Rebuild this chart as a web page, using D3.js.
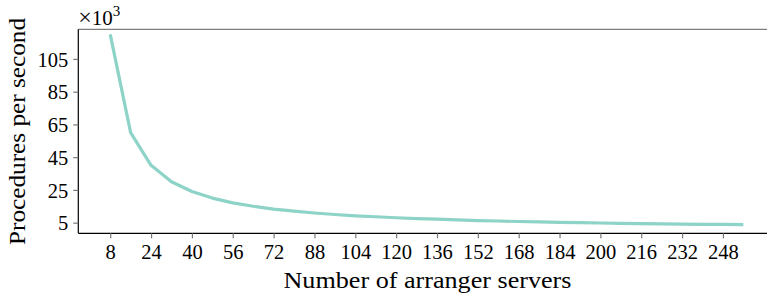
<!DOCTYPE html>
<html>
<head>
<meta charset="utf-8">
<script src="https://cdn.jsdelivr.net/npm/d3@7"></script>
<style>
  body { margin: 0; background: #fff; }
  svg { display: block; font-family: "Liberation Serif", serif; }
  .axis-legend { font-size: 23px; fill: #000; }
</style>
</head>
<body>
<div id="chart"></div>
<script>
// x: number of arranger servers, y: procedures per second (x10^3)
let servers = [8, 16, 24, 32, 40, 48, 56, 64, 72, 80, 88, 96, 104, 112, 120, 128,
  136, 144, 152, 160, 168, 176, 184, 192, 200, 208, 216, 224, 232, 240, 248, 256];
let procsPerSec = [120, 60, 40, 30, 24, 20, 17.1, 15, 13.3, 12, 10.9, 10, 9.2, 8.6, 8, 7.5,
  7.1, 6.7, 6.3, 6, 5.7, 5.5, 5.2, 5, 4.8, 4.6, 4.4, 4.3, 4.1, 4, 3.9, 3.75];
let xTicks = [8, 24, 40, 56, 72, 88, 104, 120, 136, 152, 168, 184, 200, 216, 232, 248];
let yTicks = [5, 25, 45, 65, 85, 105];

let width = 767;
let height = 299;
let margin = { top: 29.3, right: -8, bottom: 65.7, left: 78.3 };
let serif = '"Liberation Serif", serif';

let data = servers.map((s, i) => ({ size: s, value: procsPerSec[i] }));

let xScale = d3.scaleLinear()
  .domain([-4.5, 268.4])
  .range([margin.left, width - margin.right]);

let yScale = d3.scaleLinear()
  .domain([-1.5, 123.1])
  .range([height - margin.bottom, margin.top]);

let svg = d3.select("#chart")
  .append("svg")
  .attr("width", width)
  .attr("height", height);

/* top spine (right side is cut off in the original) */
svg.append("line")
  .attr("x1", margin.left).attr("x2", width)
  .attr("y1", margin.top).attr("y2", margin.top)
  .attr("stroke", "#7f7f7f").attr("stroke-width", 1.2);

let line = d3.line()
  .x(d => xScale(d.size))
  .y(d => yScale(d.value));

svg.append("path")
  .datum(data)
  .attr("d", line)
  .attr("fill", "none")
  .attr("stroke", "#8dd3c7")
  .attr("stroke-width", 3.2)
  .attr("stroke-linejoin", "round");

let xAxis = d3.axisBottom(xScale).tickValues(xTicks).tickSize(5).tickPadding(6).tickSizeOuter(0);
let yAxis = d3.axisLeft(yScale).tickValues(yTicks).tickSize(5).tickPadding(5).tickSizeOuter(0);

let gx = svg.append("g")
  .attr("transform", `translate(0, ${height - margin.bottom})`)
  .call(xAxis);
gx.select(".domain").attr("d", `M${margin.left},0H${width}`).attr("stroke", "#000").attr("stroke-width", 1.2);
gx.selectAll(".tick line").attr("stroke", "#777").attr("stroke-width", 1.2);

let gy = svg.append("g")
  .attr("transform", `translate(${margin.left}, 0)`)
  .call(yAxis);
gy.select(".domain").attr("d", `M0,${height - margin.bottom}V${margin.top}`).attr("stroke", "#000").attr("stroke-width", 1.2);
gy.selectAll(".tick line").attr("stroke", "#777").attr("stroke-width", 1.2);
gy.selectAll(".tick text").attr("dy", "0.35em");

svg.selectAll(".tick text")
  .style("font-family", serif)
  .style("font-size", "20.5px")
  .style("fill", "#000");

svg.append("text")
  .attr("class", "axis-legend")
  .attr("x", 427.5)
  .attr("y", 288)
  .attr("text-anchor", "middle")
  .attr("textLength", 288)
  .attr("lengthAdjust", "spacingAndGlyphs")
  .text("Number of arranger servers");

svg.append("text")
  .attr("class", "axis-legend")
  .attr("transform", `translate(25, 131.5) rotate(-90)`)
  .attr("text-anchor", "middle")
  .attr("textLength", 227)
  .attr("lengthAdjust", "spacingAndGlyphs")
  .text("Procedures per second");

let mult = svg.append("text")
  .attr("x", margin.left)
  .attr("y", 25)
  .style("font-family", serif)
  .style("font-size", "21px");
mult.append("tspan").style("font-size", "24px").text("\u00d7");
mult.append("tspan").text("10");
mult.append("tspan").attr("dy", -9).style("font-size", "15px").text("3");
</script>
</body>
</html>
